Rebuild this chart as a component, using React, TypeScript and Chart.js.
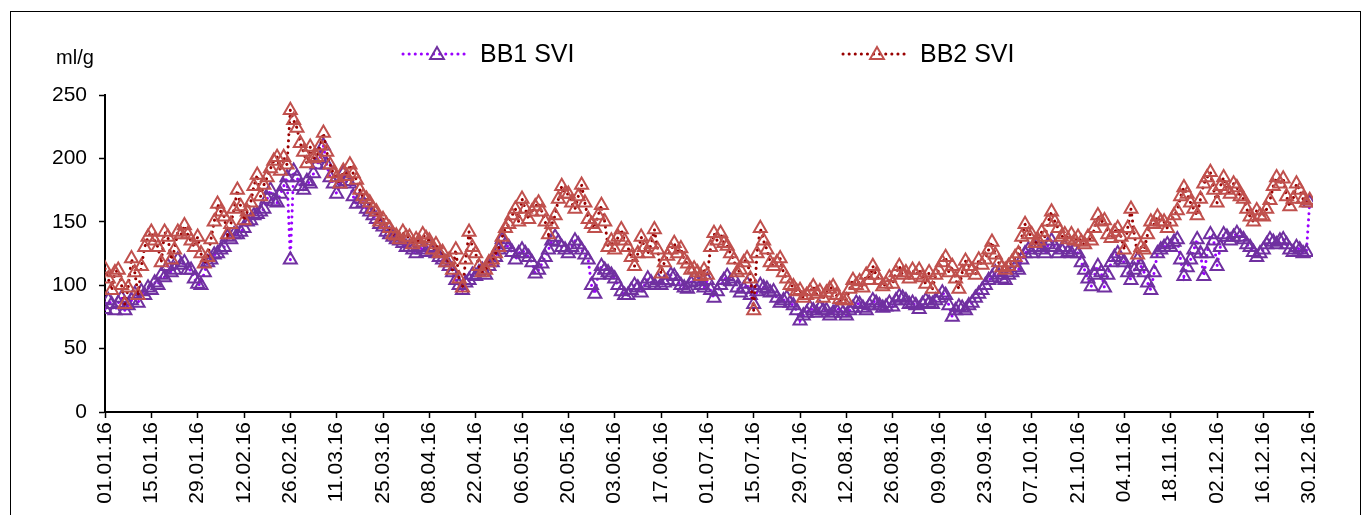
import React, { useEffect, useRef } from "react";
import { Chart, registerables } from "chart.js";

Chart.register(...registerables);

// x-axis tick labels (one every 14 days)
const TICK_LABELS = [
  "01.01.16", "15.01.16", "29.01.16", "12.02.16", "26.02.16", "11.03.16", "25.03.16",
  "08.04.16", "22.04.16", "06.05.16", "20.05.16", "03.06.16", "17.06.16", "01.07.16",
  "15.07.16", "29.07.16", "12.08.16", "26.08.16", "09.09.16", "23.09.16", "07.10.16",
  "21.10.16", "04.11.16", "18.11.16", "02.12.16", "16.12.16", "30.12.16",
];
const TICK_STEP_DAYS = 14;
const AXIS_END_DAY = 365;
const Y_MIN = 0;
const Y_MAX = 250;
const Y_STEP = 50;
const UNIT = "ml/g";
const SERIES_NAMES = ["BB1 SVI", "BB2 SVI"];

// BB1 SVI (ml/g), daily from 01.01.16; one row per 14-day tick interval
const BB1 = [
  81, 88, 85, 80, 86, 90, 80, 84, 88, 93, 86, 95, 92, 98,
  96, 102, 100, 108, 106, 115, 110, 112, 120, 116, 118, 112, 112, 105,
  101, 100, 110, 118, 120, 124, 125, 128, 130, 138, 136, 140, 140, 142,
  145, 150, 151, 155, 156, 158, 160, 168, 175, 166, 165, 172, 178, 185,
  120, 190, 185, 178, 175, 182, 180, 188, 195, 200, 210, 195, 185, 180,
  172, 180, 188, 182, 180, 170, 164, 168, 165, 160, 158, 155, 152, 148,
  146, 142, 140, 138, 136, 135, 133, 130, 130, 128, 125, 130, 128, 126,
  130, 128, 125, 122, 120, 118, 115, 110, 104, 100, 96, 102, 104, 108,
  107, 110, 112, 108, 115, 118, 122, 128, 136, 132, 130, 126, 120, 125,
  128, 125, 122, 118, 109, 112, 117, 122, 128, 135, 138, 134, 130, 128,
  125, 130, 135, 132, 128, 124, 120, 100, 93, 108, 115, 112, 110, 108,
  105, 100, 95, 92, 92, 96, 100, 98, 94, 100, 105, 102, 100, 104,
  100, 102, 104, 108, 107, 103, 100, 98, 97, 102, 105, 103, 100, 98,
  104, 96, 90, 95, 100, 104, 107, 103, 105, 98, 94, 97, 101, 92,
  85, 95, 100, 98, 97, 94, 95, 90, 86, 88, 90, 86, 84, 80,
  72, 76, 78, 82, 80, 78, 82, 80, 80, 76, 78, 80, 82, 78,
  76, 80, 82, 86, 85, 82, 80, 84, 88, 86, 84, 82, 83, 86,
  83, 88, 91, 90, 88, 85, 86, 84, 81, 85, 88, 86, 85, 88,
  90, 94, 92, 84, 75, 80, 83, 82, 80, 84, 86, 90, 93, 96,
  100, 104, 106, 110, 108, 105, 104, 108, 110, 114, 112, 120, 125, 128,
  125, 130, 130, 128, 125, 132, 135, 130, 125, 128, 130, 126, 125, 128,
  125, 118, 112, 105, 99, 108, 115, 110, 98, 108, 118, 122, 125, 120,
  118, 110, 104, 112, 120, 115, 110, 102, 96, 110, 125, 128, 130, 132,
  130, 134, 136, 120, 107, 114, 120, 128, 136, 125, 107, 125, 140, 135,
  115, 130, 140, 138, 135, 138, 141, 138, 136, 132, 130, 126, 122, 125,
  128, 132, 136, 134, 132, 135, 136, 132, 128, 126, 130, 128, 125, 126,
  165,
];

// BB2 SVI (ml/g), daily from 01.01.16
const BB2 = [
  113, 105, 96, 110, 112, 100, 85, 98, 121, 110, 92, 115, 130, 138,
  142, 135, 130, 118, 142, 138, 120, 128, 142, 140, 147, 140, 135, 130,
  138, 125, 117, 122, 136, 150, 164, 158, 154, 140, 148, 160, 175, 162,
  151, 158, 165, 178, 187, 170, 179, 185, 192, 198, 201, 190, 201, 195,
  238, 230, 224, 212, 205, 196, 209, 200, 201, 210, 220, 205, 195, 188,
  185, 180, 190, 186, 195, 188, 183, 175, 170, 168, 165, 160, 158, 150,
  152, 148, 145, 140, 139, 136, 142, 138, 138, 132, 136, 134, 140, 137,
  135, 128, 132, 125, 126, 118, 120, 112, 128, 105, 98, 120, 142, 130,
  125, 115, 110, 112, 118, 120, 125, 130, 138, 145, 148, 155, 160, 150,
  168, 160, 152, 158, 162, 165, 158, 150, 140, 148, 155, 168, 178, 172,
  172, 165, 160, 170, 179, 165, 152, 148, 145, 155, 163, 150, 130, 135,
  128, 138, 144, 135, 130, 122, 115, 125, 138, 130, 125, 132, 144, 128,
  109, 118, 123, 128, 133, 125, 129, 120, 117, 112, 113, 110, 107, 112,
  108, 130, 141, 135, 141, 133, 131, 125, 120, 110, 112, 118, 121, 105,
  80, 125, 145, 135, 128, 118, 115, 118, 121, 110, 105, 100, 99, 95,
  96, 90, 92, 95, 99, 93, 95, 90, 94, 97, 99, 92, 89, 88,
  88, 97, 104, 100, 103, 98, 108, 104, 115, 108, 104, 99, 101, 106,
  101, 110, 115, 108, 110, 105, 112, 108, 112, 106, 101, 110, 97, 108,
  112, 118, 122, 110, 115, 105, 97, 110, 119, 115, 112, 108, 120, 116,
  120, 128, 134, 124, 118, 114, 112, 115, 118, 122, 125, 138, 148, 140,
  140, 133, 135, 142, 138, 150, 158, 150, 145, 138, 140, 136, 140, 135,
  138, 134, 132, 138, 135, 145, 155, 150, 151, 140, 137, 142, 145, 138,
  128, 145, 160, 140, 124, 130, 128, 140, 150, 148, 154, 150, 150, 145,
  150, 155, 159, 170, 177, 172, 165, 160, 155, 168, 180, 185, 189, 175,
  165, 178, 185, 175, 172, 180, 177, 170, 168, 160, 154, 150, 159, 155,
  154, 160, 167, 178, 185, 180, 184, 170, 162, 168, 180, 175, 168, 165,
  167,
];

const COLORS = {
  bb1Line: "#9A00FF",
  bb1Marker: "#7030A0",
  bb2Line: "#990000",
  bb2Marker: "#C0504D",
};

const FONT = '"Liberation Sans", Arial, sans-serif';
const CANVAS_W = 1349;
const CANVAS_H = 540;

export default function App() {
  const ref = useRef<HTMLCanvasElement | null>(null);

  useEffect(() => {
    document.documentElement.style.overflow = "hidden";
    document.body.style.overflow = "hidden";
    const canvas = ref.current;
    if (!canvas) return;

    const toPoints = (arr: number[]) => arr.map((v, i) => ({ x: i, y: v }));
    const tickDays = TICK_LABELS.map((_, i) => i * TICK_STEP_DAYS);

    const drawTriangle = (ctx: CanvasRenderingContext2D, cx: number, cy: number, r: number) => {
      ctx.beginPath();
      ctx.moveTo(cx, cy - r);
      ctx.lineTo(cx + r * 0.866, cy + r / 2);
      ctx.lineTo(cx - r * 0.866, cy + r / 2);
      ctx.closePath();
      ctx.stroke();
    };

    const legendPlugin = {
      id: "excelLegend",
      afterDraw(chart: any) {
        const ctx: CanvasRenderingContext2D = chart.ctx;
        ctx.save();
        const y = 42;
        const items = [
          { name: SERIES_NAMES[0], line: COLORS.bb1Line, marker: COLORS.bb1Marker, x: 392 },
          { name: SERIES_NAMES[1], line: COLORS.bb2Line, marker: COLORS.bb2Marker, x: 832 },
        ];
        items.forEach((it) => {
          ctx.strokeStyle = it.line;
          ctx.lineWidth = 3;
          ctx.lineCap = "round";
          ctx.setLineDash([0.1, 6]);
          ctx.beginPath();
          ctx.moveTo(it.x, y);
          ctx.lineTo(it.x + 67, y);
          ctx.stroke();
          ctx.setLineDash([]);
          ctx.lineCap = "butt";
          ctx.strokeStyle = it.marker;
          ctx.lineWidth = 2;
          drawTriangle(ctx, it.x + 34, y + 1, 8);
          ctx.fillStyle = "#000";
          ctx.font = `25px ${FONT}`;
          ctx.textBaseline = "middle";
          ctx.textAlign = "left";
          ctx.fillText(it.name, it.x + 77, y + 1);
        });
        ctx.fillStyle = "#000";
        ctx.font = `20px ${FONT}`;
        ctx.textAlign = "center";
        ctx.textBaseline = "middle";
        ctx.fillText(UNIT, 64, 46);
        ctx.restore();
      },
    };

    const commonDataset = {
      borderWidth: 3,
      borderDash: [0.1, 6],
      borderCapStyle: "round",
      tension: 0,
      pointStyle: "triangle",
      pointRadius: 7.5,
      pointBorderWidth: 2,
      pointBackgroundColor: "rgba(0,0,0,0)",
    };

    const chart = new Chart(canvas, {
      type: "line",
      data: {
        datasets: [
          {
            ...commonDataset,
            label: SERIES_NAMES[0],
            data: toPoints(BB1),
            borderColor: COLORS.bb1Line,
            pointBorderColor: COLORS.bb1Marker,
            order: 1,
          },
          {
            ...commonDataset,
            label: SERIES_NAMES[1],
            data: toPoints(BB2),
            borderColor: COLORS.bb2Line,
            pointBorderColor: COLORS.bb2Marker,
            order: 0,
          },
        ],
      },
      options: {
        responsive: false,
        animation: false,
        devicePixelRatio: 1,
        layout: { padding: { top: 83, right: 47, left: 0, bottom: 0 } },
        plugins: {
          legend: { display: false },
          tooltip: { enabled: false },
        },
        scales: {
          x: {
            type: "linear",
            min: 0,
            max: AXIS_END_DAY,
            afterBuildTicks: (axis: any) => {
              axis.ticks = tickDays.map((v) => ({ value: v }));
            },
            afterFit: (axis: any) => {
              axis.height = 140;
            },
            ticks: {
              autoSkip: false,
              maxRotation: 90,
              minRotation: 90,
              padding: 4,
              color: "#000",
              font: { family: FONT, size: 21 },
              callback: (value: any) => {
                const idx = Math.round(Number(value) / TICK_STEP_DAYS);
                return TICK_LABELS[idx] ?? "";
              },
            },
            grid: {
              drawOnChartArea: false,
              drawTicks: true,
              tickLength: 6,
              tickColor: "#000",
              tickWidth: 1.5,
            },
            border: { display: true, color: "#000", width: 2 },
          },
          y: {
            type: "linear",
            min: Y_MIN,
            max: Y_MAX,
            afterFit: (axis: any) => {
              axis.width = 94;
            },
            ticks: {
              stepSize: Y_STEP,
              padding: 12,
              color: "#000",
              font: { family: FONT, size: 21 },
            },
            grid: {
              drawOnChartArea: false,
              drawTicks: true,
              tickLength: 6,
              tickColor: "#000",
              tickWidth: 1.5,
            },
            border: { display: true, color: "#000", width: 2 },
          },
        },
      },
      plugins: [legendPlugin],
    } as any);

    return () => chart.destroy();
  }, []);

  return (
    <div
      style={{
        position: "fixed",
        left: 10,
        top: 11,
        width: CANVAS_W,
        height: CANVAS_H,
        border: "1px solid #000",
        background: "#fff",
      }}
    >
      <canvas ref={ref} width={CANVAS_W} height={CANVAS_H} style={{ display: "block" }} />
    </div>
  );
}
